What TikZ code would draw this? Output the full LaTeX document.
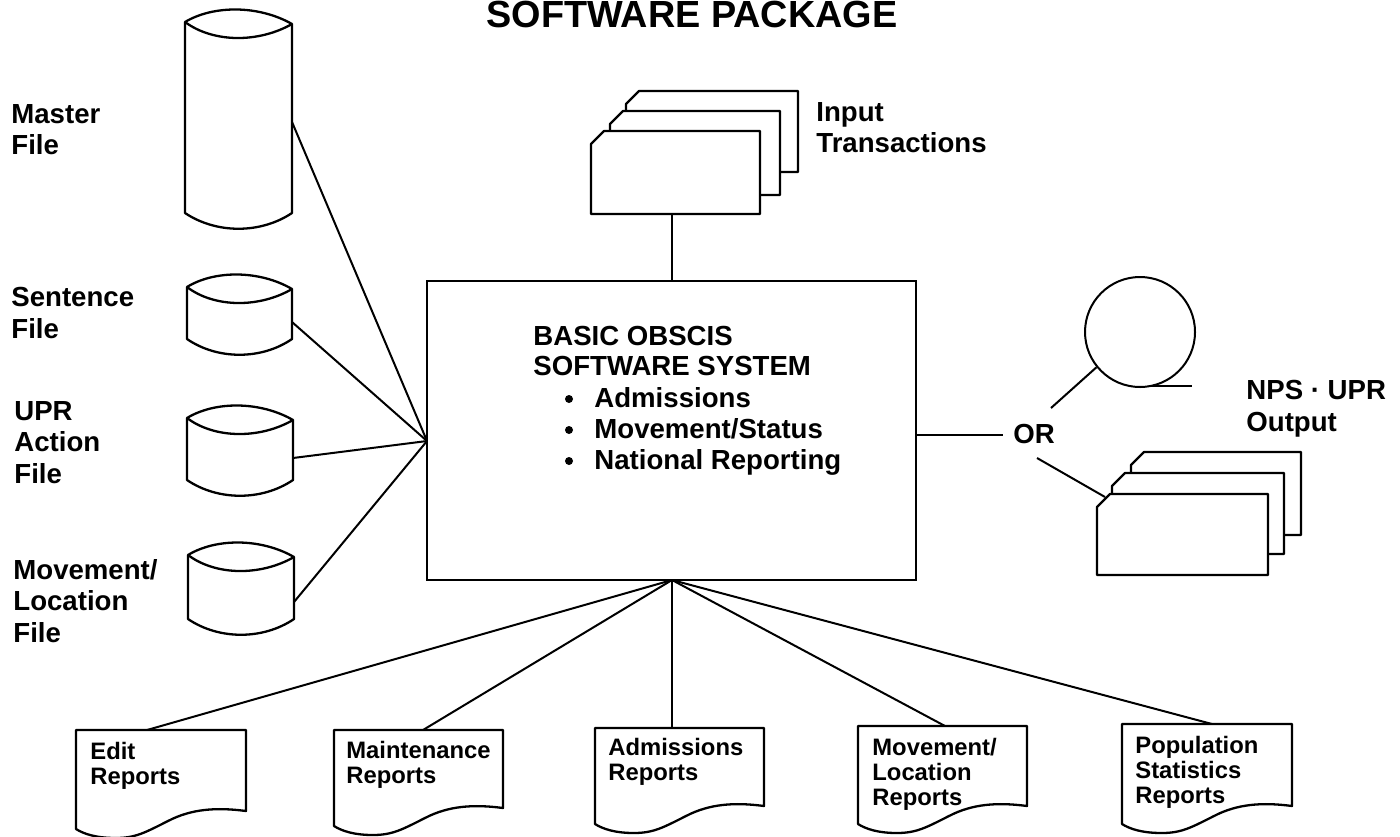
\documentclass[tikz,border=0pt]{standalone}
\usepackage{fontspec}
\setmainfont{Liberation Sans}
\newcommand{\cyl}[5]{% name x1 x2 ytop ybottom
  \pgfmathsetmacro{\xm}{(#2+#3)/2}
  \path[cylbody] (#2,#4) .. controls (\xm-25,#4-17) and (\xm+20,#4-17) .. (#3,#4+2)
    -- (#3,#5) .. controls (\xm+22,#5+21) and (\xm-22,#5+21) .. (#2,#5) -- cycle;
  \draw[shape line] (#2,#4) .. controls (\xm-25,#4+21) and (\xm+20,#4+21) .. (#3,#4+2);
  \coordinate (#1) at (#3,#4);
}
\newcommand{\cardcard}[4]{% x1 ytop x2 ybottom
  \path[shape line,fill=white] (#1,#2+13) -- (#1+13,#2) -- (#3,#2) -- (#3,#4) -- (#1,#4) -- cycle;
}
\newcommand{\docsheet}[5]{% name L R ytop ybottomright
  \path[shape line,fill=white] (#2,#4) -- (#3,#4) -- (#3,#5)
    .. controls (#3-30,#5-4) and (#3-55,#5-2) .. (#3-78,#5+10)
    .. controls (#3-100,#5+21) and (#3-110,#5+27) .. (#3-130,#5+27)
    .. controls (#2+20,#5+27) and (#2+8,#5+23) .. (#2,#5+18) -- cycle;
  \coordinate (#1) at (#2,#4);
}
\tikzset{
  shape line/.style={draw=black,line width=1.15pt,line join=round},
  cylbody/.style={draw=black,line width=1.15pt,line join=round,fill=white},
  link/.style={draw=black,line width=1pt},
  lab/.style={font=\fontsize{13.8}{15.7}\selectfont\bfseries,align=left,anchor=north west,inner sep=0pt,text=black},
  doclab/.style={font=\fontsize{11.9}{12.7}\selectfont\bfseries,align=left,anchor=north west,inner sep=0pt,text=black},
}
\begin{document}
\begin{tikzpicture}[x=0.5pt,y=-0.5pt]
\useasboundingbox (0,0) rectangle (1400,836);
\clip (0,0) rectangle (1400,836);
% title
\node[inner sep=0pt,font=\fontsize{18.9}{20}\selectfont\bfseries] (title) at (692,14) {SOFTWARE PACKAGE};
% main box
\node[draw=black,line width=1pt,minimum width=244.5pt,minimum height=149.5pt,inner sep=0pt,outer sep=0pt] (main) at (671.5,430) {};
\coordinate (hubL) at (427,441);
\coordinate (hubB) at (672,580);
\coordinate (hubT) at (672,281);
\coordinate (hubR) at (916,435);
\node[lab,font=\fontsize{13.8}{15}\selectfont\bfseries] (mainlab) at (533,326) {BASIC OBSCIS\\SOFTWARE SYSTEM};
\node[lab] (b1) at (594,387) {Admissions};
\node[lab] (b2) at (594,418) {Movement/Status};
\node[lab] (b3) at (594,449) {National Reporting};
\fill (569,399) circle (4);
\fill (569,430) circle (4);
\fill (569,461) circle (4);
% cylinders
\cyl{c1}{185}{292}{22}{213}
\cyl{c2}{187}{292}{287}{339}
\cyl{c3}{187}{293}{418}{480}
\cyl{c4}{188}{294}{555}{619}
\coordinate (e1) at (292,122);
\coordinate (e2) at (292,322);
\coordinate (e3) at (293,458);
\coordinate (e4) at (294,602);
\foreach \e in {e1,e2,e3,e4} \draw[link] (\e) -- (hubL);
\node[lab] (t1) at (11,104) {Master\\File};
\node[lab] (t2) at (11,287) {Sentence\\File};
\node[lab] (t3) at (14,401) {UPR\\Action\\File};
\node[lab] (t4) at (13,559) {Movement/\\Location\\File};
% input stack
\cardcard{626}{91}{798}{172}
\cardcard{610}{111}{780}{195}
\cardcard{591}{131}{760}{214}
\coordinate (inp) at (672,214);
\draw[link] (inp) -- (hubT);
\node[lab] (t5) at (816,102) {Input\\Transactions};
% tape
\node[draw=black,line width=1pt,circle,minimum size=55pt,inner sep=0pt] (tape) at (1140,332) {};
\coordinate (tail) at (1192,386);
\draw[shape line] (1150,386) -- (tail);
\node[inner sep=0pt,font=\fontsize{13.8}{16}\selectfont\bfseries] (or) at (1034,434) {OR};
\draw[link] (hubR) -- (1003,435);
\coordinate (ora) at (1051,408);
\coordinate (orb) at (1037,458);
\draw[link] (ora) -- (tape.219);
% output stack
\cardcard{1131}{452}{1301}{535}
\cardcard{1112}{473}{1284}{554}
\cardcard{1097}{494}{1268}{575}
\coordinate (outc) at (1105,497);
\draw[link] (orb) -- (outc);
\node[lab] (t6) at (1246,380) {NPS · UPR\\Output};
% documents
\docsheet{d1}{76}{246}{730}{811}
\docsheet{d2}{334}{503}{730}{808}
\docsheet{d3}{595}{764}{728}{806}
\docsheet{d4}{858}{1027}{726}{806}
\docsheet{d5}{1122}{1292}{724}{806}
\coordinate (k1) at (147,730);
\coordinate (k2) at (423,730);
\coordinate (k3) at (672,728);
\coordinate (k4) at (945,726);
\coordinate (k5) at (1212,724);
\foreach \k in {k1,k2,k3,k4,k5} \draw[link] (hubB) -- (\k);
\node[doclab] (r1) at (90,741.5) {Edit\\Reports};
\node[doclab] (r2) at (346,740.5) {Maintenance\\Reports};
\node[doclab] (r3) at (608,737.5) {Admissions\\Reports};
\node[doclab] (r4) at (872,737.5) {Movement/\\Location\\Reports};
\node[doclab] (r5) at (1135,735.5) {Population\\Statistics\\Reports};
\end{tikzpicture}
\end{document}
